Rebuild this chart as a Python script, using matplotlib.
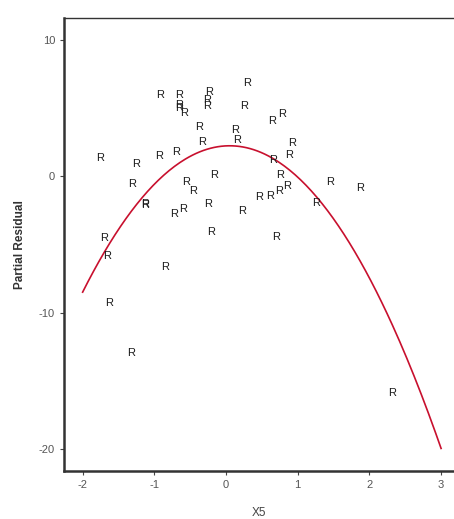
import numpy as np
import matplotlib.pyplot as plt

plt.rcParams['font.family'] = ['Liberation Sans', 'DejaVu Sans']

# partial residuals for X5
x5 = [-0.92, -0.65, -0.23, 0.29, -0.65, -0.65, -0.59, -0.27, -0.26, 0.25,
      -0.38, 0.13, -0.33, 0.16, -1.75, -1.26, -0.93, -0.70, -0.17, -1.31,
      -0.56, -0.46, 0.46, -1.13, -1.13, -0.73, -0.60, -0.25, 0.23, 0.65,
      0.78, 0.92, 0.88, 0.66, 0.75, 0.85, 0.74, 0.61, 1.45, 1.87,
      1.25, -1.70, -1.66, -0.21, -0.85, -1.63, -1.33, 0.70, 2.31]
resid = [5.99, 5.99, 6.24, 6.85, 5.26, 5.04, 4.65, 5.63, 5.21, 5.21,
         3.66, 3.40, 2.51, 2.66, 1.34, 0.92, 1.53, 1.78, 0.11, -0.57,
         -0.43, -1.04, -1.49, -1.99, -2.10, -2.76, -2.39, -2.02, -2.54, 4.08,
         4.57, 2.44, 1.58, 1.21, 0.11, -0.68, -1.04, -1.43, -0.43, -0.87,
         -1.93, -4.50, -5.85, -4.06, -6.63, -9.28, -13.0, -4.47, -15.9]

# quadratic fit coefficients (a + b*x + c*x^2)
coef_a, coef_b, coef_c = 2.25, 0.26, -2.558
fit_x = np.linspace(-2, 3, 200)
fit_y = coef_a + coef_b * fit_x + coef_c * fit_x ** 2

fig = plt.figure(figsize=(4.54, 5.19), dpi=100)
ax = fig.add_axes([64 / 454, 1 - 471 / 519, 1 - 64 / 454, (471 - 18) / 519])

for xv, yv in zip(x5, resid):
    ax.text(xv, yv, 'R', ha='center', va='center', fontsize=8,
            color='#1a1a1a')

ax.plot(fit_x, fit_y, color='#c8102e', lw=1.2)

ax.set_xlim(-2.26, 3.18)
ax.set_ylim(-21.65, 11.65)
ax.set_xticks([-2, -1, 0, 1, 2, 3])
ax.set_yticks([-20, -10, 0, 10])
ax.set_xticklabels(['-2', '-1', '0', '1', '2', '3'])
ax.set_yticklabels(['-20', '-10', '0', '10'])
ax.tick_params(direction='out', length=3, width=0.8, colors='#444444',
               labelsize=8, labelcolor='#555555')

ax.spines['right'].set_visible(False)
ax.spines['left'].set_linewidth(1.8)
ax.spines['bottom'].set_linewidth(1.8)
ax.spines['top'].set_linewidth(1.0)
for s in ['left', 'bottom', 'top']:
    ax.spines[s].set_color('#333333')

ax.set_xlabel('X5', fontsize=8.5, color='#444444', labelpad=12)
ax.set_ylabel('Partial Residual', fontsize=8.5, fontweight='bold',
              color='#333333', labelpad=9)

fig.savefig('out.png', dpi=100)
